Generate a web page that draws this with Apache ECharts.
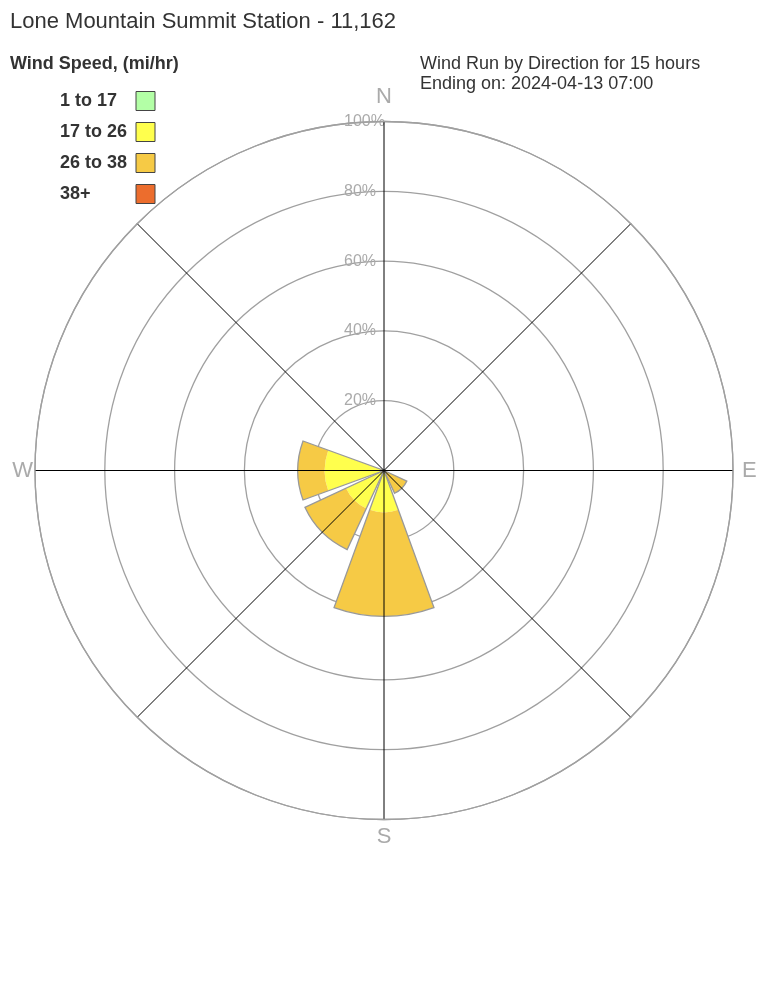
<!DOCTYPE html>
<html>
<head>
<meta charset="utf-8">
<script src="https://cdn.jsdelivr.net/npm/echarts@6/dist/echarts.min.js"></script>
<style>
html,body{margin:0;padding:0;background:#fff;}
#chart{width:768px;height:1008px;}
</style>
</head>
<body>
<div id="chart"></div>
<script>
// ---- data ----
var directions = ['N', 'NE', 'E', 'SE', 'S', 'SW', 'W', 'NW'];
var shownDirLabels = ['N', 'E', 'S', 'W'];
var speedBins = ['1 to 17', '17 to 26', '26 to 38', '38+'];
var bin1to17  = [0, 0, 0, 0,   0,    0,    0,    0];
var bin17to26 = [0, 0, 0, 0,   12,   12,   17,   0];
var bin26to38 = [0, 0, 0, 7.2, 29.8, 13,   7.7,  0];
var bin38plus = [0, 0, 0, 0,   0,    0,    0,    0];
var radiusTicks = [0, 20, 40, 60, 80, 100];
var titleText = 'Lone Mountain Summit Station - 11,162';
var subText = 'Wind Run by Direction for 15 hours\nEnding on: 2024-04-13 07:00';
var legendTitle = 'Wind Speed, (mi/hr)';

var binColors = ['#b3ffa6', '#ffff4d', '#f6ca45', '#ec6d2d'];
var FONT = '"Liberation Sans", Arial, sans-serif';

var totals = directions.map(function (d, i) {
  var t = bin1to17[i] + bin17to26[i] + bin26to38[i] + bin38plus[i];
  return t > 0 ? t : '-';
});

var chart = echarts.init(document.getElementById('chart'), null, {renderer: 'canvas'});
var CENTER = [384, 470.5];
var R = 349;

var binData = [bin1to17, bin17to26, bin26to38, bin38plus];
var series = speedBins.map(function (name, k) {
  return {
    name: name,
    type: 'bar',
    coordinateSystem: 'polar',
    polarIndex: 1,
    stack: 'wind',
    barCategoryGap: '11%',
    data: binData[k],
    itemStyle: {color: binColors[k], borderWidth: 0},
    emphasis: {disabled: true},
    z: 2
  };
});
series.push({
  name: 'outline',
  type: 'bar',
  coordinateSystem: 'polar',
  polarIndex: 1,
  barGap: '-100%',
  barCategoryGap: '11%',
  data: totals,
  itemStyle: {color: 'rgba(0,0,0,0)', borderColor: '#999', borderWidth: 1.3},
  silent: true,
  z: 3
});

var dirLabelStyle = {color: '#aaa', fontSize: 22, fontFamily: FONT};
function dirRich(pad) {
  return Object.assign({padding: pad}, dirLabelStyle);
}

var option = {
  backgroundColor: '#fff',
  animation: false,
  textStyle: {fontFamily: FONT},
  title: [
    {text: titleText, left: 10, top: 11, padding: 0,
     textStyle: {fontSize: 22, fontWeight: 'normal', color: '#333', fontFamily: FONT, lineHeight: 22}},
    {text: legendTitle, left: 10, top: 55, padding: 0,
     textStyle: {fontSize: 18, fontWeight: 'bold', color: '#333', fontFamily: FONT, lineHeight: 18}},
    {text: subText, left: 420, top: 54, padding: 0,
     textStyle: {fontSize: 18, fontWeight: 'normal', color: '#333', fontFamily: FONT, lineHeight: 20}}
  ],
  legend: {
    data: speedBins,
    orient: 'vertical',
    left: 60,
    top: 91,
    padding: 0,
    align: 'right',
    itemWidth: 19,
    itemHeight: 19,
    itemGap: 11,
    icon: 'rect',
    selectedMode: false,
    itemStyle: {borderColor: '#444', borderWidth: 1},
    formatter: '{a|{name}}',
    textStyle: {
      rich: {a: {width: 71, align: 'left', fontSize: 18, fontWeight: 'bold', color: '#333', fontFamily: FONT}}
    }
  },
  polar: [
    {center: CENTER, radius: R},
    {center: CENTER, radius: R}
  ],
  angleAxis: [
    {
      polarIndex: 0, type: 'value', min: 0, max: 360, interval: 45,
      startAngle: 90, clockwise: true, z: 10,
      axisLine: {show: true, lineStyle: {color: '#a0a0a0', width: 1.3}},
      axisTick: {show: false}, axisLabel: {show: false},
      splitLine: {show: true, lineStyle: {color: '#000', width: 1}}
    },
    {
      polarIndex: 1, type: 'category', data: directions,
      startAngle: 90 + 22.5, clockwise: true,
      axisLine: {show: false}, axisTick: {show: false}, splitLine: {show: false},
      axisLabel: {
        show: true, color: '#aaa', fontSize: 22, margin: 2, fontFamily: FONT,
        formatter: function (v) {
          if (v === 'N') return '{n|N}';
          if (v === 'S') return '{s|S}';
          if (v === 'E') return '{e|E}';
          if (v === 'W') return '{w|W}';
          return '';
        },
        rich: {
          n: dirRich([0, 0, 12, 0]),
          s: dirRich([4, 0, 0, 0]),
          e: dirRich([0, 0, 0, 7]),
          w: dirRich([0, 0, 0, 0])
        }
      }
    }
  ],
  radiusAxis: [
    {
      polarIndex: 0, type: 'value', min: radiusTicks[0], max: radiusTicks[radiusTicks.length - 1],
      interval: radiusTicks[1] - radiusTicks[0], angle: 90, z: 0,
      axisLine: {show: false}, axisTick: {show: false},
      splitLine: {show: true, lineStyle: {color: '#a0a0a0', width: 1.3}},
      axisLabel: {
        show: true, color: '#aaa', fontSize: 16, fontFamily: FONT, showMinLabel: false,
        formatter: '{value}%', align: 'left', margin: 40, verticalAlign: 'middle',
        padding: [4, 0, 0, 0]
      }
    },
    {
      polarIndex: 1, type: 'value', min: 0, max: 100, show: false
    }
  ],
  series: series
};
chart.setOption(option);
</script>
</body>
</html>
